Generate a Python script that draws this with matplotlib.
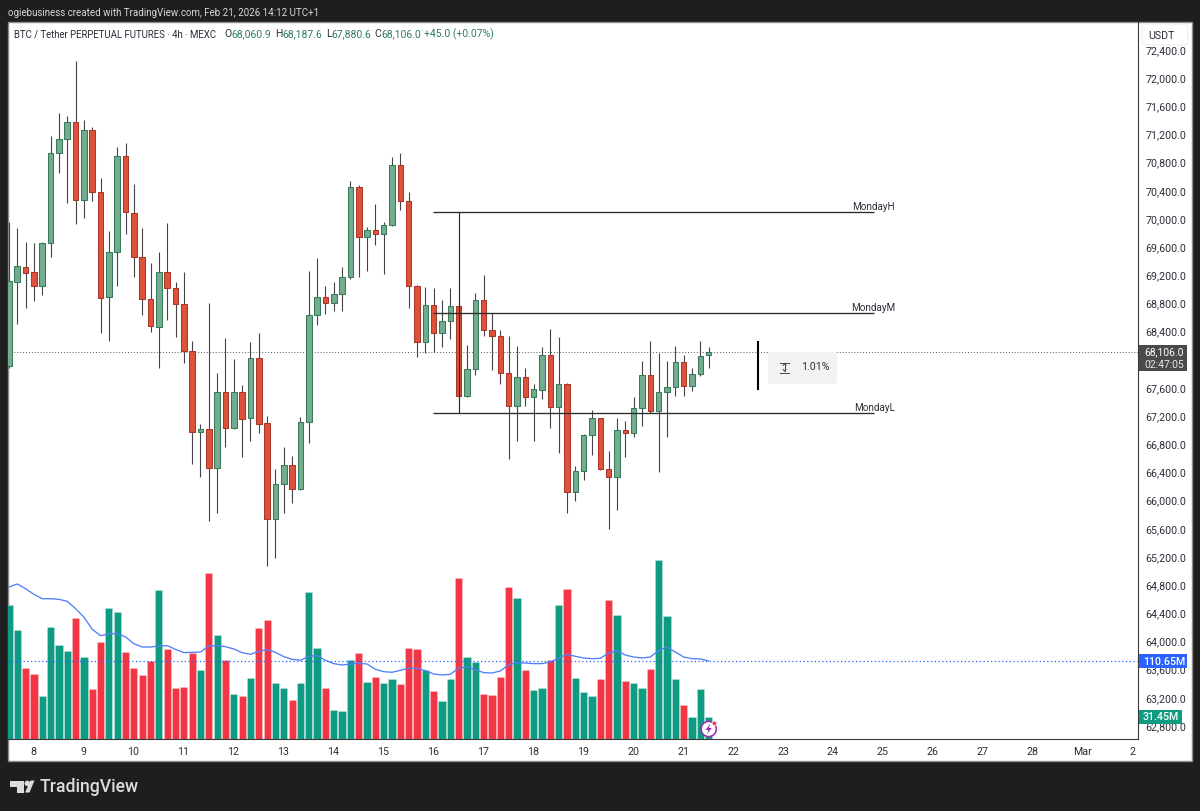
import numpy as np
import matplotlib
matplotlib.use('Agg')
import matplotlib.pyplot as plt
from matplotlib.patches import Rectangle, Circle, Polygon, FancyBboxPatch
from matplotlib.transforms import ScaledTranslation

plt.rcParams['font.family'] = ['Roboto', 'DejaVu Sans']

# 4h candles, oldest first
opens = [67915, 69107, 69312, 69240, 69050, 69653, 70940, 71130, 71370, 70270,
         71260, 70380, 68890, 69525, 70890, 70090, 69460, 68866, 68468, 69240,
         69014, 68787, 68123, 66977, 67010, 66466, 67537, 67034, 67537, 67176,
         68020, 67097, 65742, 66231, 66505, 66168, 67119, 68635, 68886, 68809,
         68937, 69170, 70452, 69738, 69842, 69781, 69908, 70765, 70253, 69051,
         68251, 68772, 68379, 68545, 68762, 67489, 67872, 68843, 68426, 68332,
         67815, 67347, 67754, 67466, 67570, 68067, 67324, 67651, 66125, 66415,
         66935, 67168, 66452, 66338, 67002, 66955, 67314, 67778, 67276, 67537,
         67608, 67963, 67626, 67801, 68060.9]
highs = [69955, 69870, 69675, 69657, 69670, 71176, 71507, 71460, 72241, 71404,
         71308, 70576, 69832, 71024, 71073, 70491, 69874, 69369, 69533, 69945,
         69099, 69249, 68265, 67083, 68801, 67815, 68304, 68006, 67641, 68247,
         68375, 67200, 66448, 66764, 66637, 67182, 69264, 69440, 69046, 69107,
         69312, 70533, 70476, 69888, 70211, 69955, 70882, 70931, 70377, 69060,
         69032, 69018, 68848, 69018, 68780, 68209, 68947, 69203, 68667, 68426,
         68336, 68194, 67882, 67651, 68176, 68432, 68326, 67665, 66495, 66950,
         67281, 67175, 66703, 67168, 67134, 67470, 67981, 68265, 68091, 67981,
         68199, 68067, 67886, 68265, 68187.6]
lows = [67882, 68507, 68734, 68838, 68923, 69462, 70655, 70221, 69927, 70008,
        70253, 68375, 68270, 69051, 69781, 69170, 68635, 68397, 67878, 68564,
        68318, 67949, 66515, 66338, 65714, 65827, 66756, 67012, 66622, 66845,
        66963, 65075, 65180, 65827, 65969, 66150, 66821, 68493, 68645, 68691,
        68691, 69150, 69170, 69259, 69629, 69213, 69900, 70126, 68738, 68042,
        68091, 68109, 68180, 68294, 67470, 67474, 67787, 68341, 67858, 67651,
        66586, 66850, 67347, 66850, 67446, 67034, 66679, 65819, 65993, 66292,
        66651, 66440, 65600, 65866, 66614, 66906, 67063, 67239, 66405, 66906,
        67484, 67484, 67555, 67773, 67880.6]
closes = [69117, 69330, 69235, 69051, 69657, 70939, 71134, 71371, 70272, 71257,
          70381, 68880, 69525, 70892, 70093, 69454, 68866, 68483, 69240, 69014,
          68787, 68123, 66977, 67016, 66466, 67537, 67034, 67537, 67162, 68020,
          67083, 65742, 66231, 66505, 66168, 67119, 68635, 68886, 68809, 68937,
          69170, 70452, 69738, 69842, 69781, 69908, 70765, 70253, 69051, 68251,
          68772, 68379, 68545, 68762, 67489, 67872, 68843, 68426, 68332, 67815,
          67347, 67754, 67466, 67580, 68067, 67324, 67651, 66125, 66415, 66935,
          67168, 66452, 66338, 67002, 66955, 67314, 67778, 67276, 67537, 67608,
          67963, 67626, 67801, 68048, 68106.0]

# volume in millions, and its moving average
volumes = [189.6, 154.1, 100.7, 92.7, 60.5, 158.9, 133.3, 124.8, 171.6, 115.8,
           70.9, 138.1, 186.3, 180.6, 122.9, 100.7, 90.3, 111.1, 211.8, 127.7,
           71.9, 74.2, 121.5, 98.3, 235.9, 147.0, 112.5, 63.8, 61.5, 87.0,
           157.4, 168.8, 79.9, 71.9, 55.8, 79.9, 208.5, 128.6, 72.8, 41.6,
           39.7, 112.5, 122.5, 80.8, 87.9, 79.0, 85.6, 77.5, 129.5, 127.7,
           98.3, 68.1, 54.4, 84.6, 227.9, 116.8, 108.7, 63.8, 62.9, 87.9,
           216.1, 200.0, 97.4, 69.5, 72.8, 112.5, 189.6, 212.8, 87.0, 67.1,
           61.5, 85.6, 196.7, 175.9, 82.3, 79.9, 72.8, 99.8, 254.4, 174.9,
           85.6, 47.8, 31.2, 70.4, 31.45]
volume_ma = [215.6, 219.9, 213.2, 205.2, 199.0, 199.0, 198.1, 195.3, 184.9, 173.0,
             155.6, 146.6, 148.9, 149.9, 144.7, 135.2, 130.5, 130.5, 131.9, 132.4,
             127.2, 122.5, 122.9, 123.4, 131.9, 132.4, 131.0, 127.7, 122.5, 120.1,
             124.3, 126.7, 122.9, 116.8, 113.0, 111.6, 117.3, 118.2, 111.6, 106.9,
             105.0, 106.4, 107.3, 106.4, 98.8, 95.5, 94.6, 97.4, 100.2, 100.2,
             96.9, 92.2, 90.8, 91.7, 100.7, 102.1, 98.3, 94.1, 93.6, 96.5,
             105.4, 108.3, 107.8, 106.9, 106.9, 109.2, 114.9, 120.1, 117.3, 114.9,
             113.9, 114.4, 122.0, 125.3, 119.1, 116.3, 114.9, 116.3, 125.3, 130.5,
             123.4, 116.3, 113.9, 113.5, 110.65]

day_labels = ['8', '9', '10', '11', '12', '13', '14', '15', '16', '17', '18', '19',
              '20', '21', '22', '23', '24', '25', '26', '27', '28', 'Mar', '2']
price_ticks = np.arange(62800, 72401, 400)

monday_names = ['MondayH', 'MondayM', 'MondayL']
monday_levels = [70097, 68667, 67239]
monday_start, monday_end = 50.9, 103.8
range_bar = [68265, 67570]

last_price = 68106.0
last_volume_ma = 110.65
last_volume = 31.45

DARK = '#1e1e1e'
TEXT = '#2a2e39'
CANDLE_UP, CANDLE_UP_EDGE = '#72ae8d', '#397a5c'
CANDLE_DOWN, CANDLE_DOWN_EDGE = '#dd523b', '#a9372a'
VOL_UP, VOL_DOWN = '#0f9b81', '#f23645'
MA_BLUE = '#4f80f7'

W, H = 1200, 812
fig = plt.figure(figsize=(W / 100, H / 100), dpi=100, facecolor=DARK)


def pane(left, top, right, bottom, **kw):
    return fig.add_axes([left / W, 1 - bottom / H, (right - left) / W, (bottom - top) / H], **kw)


# full-figure axes in pixels, one under the chart and one over it
back = pane(0, 0, W, H, zorder=0)
front = pane(0, 0, W, H, zorder=5)
for a in (back, front):
    a.set_xlim(0, W)
    a.set_ylim(H, 0)
    a.axis('off')
    a.patch.set_alpha(0)

back.add_patch(Rectangle((8, 23), 1184, 739, fc='white', ec='#8c8c8c', lw=1))

xlim = (-0.11, 135.55)
vol_ax = pane(8, 23, 1138, 740, zorder=1)
vol_ax.patch.set_alpha(0)
price_ax = pane(8, 23, 1138, 740, zorder=2)
price_ax.patch.set_alpha(0)

# volume pane shares the x axis with price, 0 sits on the time axis
x = np.arange(len(closes))
up = np.array(closes) >= np.array(opens)
vol_colors = [VOL_UP if u else VOL_DOWN for u in up]
vol_ax.bar(x, volumes, width=0.87, color=vol_colors, edgecolor='#ffffff66', linewidth=0.4)
vol_ax.plot(x, volume_ma, color=MA_BLUE, lw=0.95, solid_joinstyle='round')
vol_ax.axhline(last_volume_ma, color='#2962ff', lw=0.9, ls=(0, (1, 2)))
vol_ax.set_xlim(xlim)
vol_ax.set_ylim(0, 1017)
vol_ax.axis('off')

# candles
price_ax.axhline(last_price, color='#555555', lw=0.7, ls=(0, (1, 2)), zorder=1)
price_ax.vlines(x, lows, highs, color='#444444', lw=0.8, zorder=2)
body_low = np.minimum(opens, closes)
body_h = np.abs(np.array(closes) - np.array(opens))
price_ax.bar(x, body_h, bottom=body_low, width=0.66,
             color=[CANDLE_UP if u else CANDLE_DOWN for u in up],
             edgecolor=[CANDLE_UP_EDGE if u else CANDLE_DOWN_EDGE for u in up],
             linewidth=0.75, zorder=3)

# drawn levels and the vertical joining high and low
price_ax.hlines(monday_levels, monday_start, monday_end, color='#2b2b2b', lw=0.95, zorder=4)
price_ax.vlines(54, monday_levels[2], monday_levels[0], color='#2b2b2b', lw=0.85, zorder=4)
for name, level in zip(monday_names, monday_levels):
    price_ax.text(106.4, level + 85, name, ha='right', va='center', fontsize=7.1, color=TEXT, zorder=4)

price_ax.vlines(89.9, range_bar[1], range_bar[0], color='black', lw=1.5, zorder=4)

price_ax.set_xlim(xlim)
price_ax.set_ylim(62615, 72796)
price_ax.yaxis.tick_right()
price_ax.set_yticks(price_ticks)
# the 68,000.0 tick sits under the last-price badge
price_ax.set_yticklabels(['' if p == 68000 else f'{p:,.1f}' for p in price_ticks])
price_ax.set_xticks([2.93 + 6 * i for i in range(len(day_labels))])
price_ax.set_xticklabels(day_labels)
price_ax.tick_params(axis='both', length=0, labelsize=7.7, labelcolor=TEXT)
price_ax.tick_params(axis='y', pad=5.5)
price_ax.tick_params(axis='x', pad=5)
nudge = ScaledTranslation(0, 1 / 100, fig.dpi_scale_trans)
for label in price_ax.get_yticklabels():
    label.set_transform(label.get_transform() + nudge)
for side in ('top', 'left'):
    price_ax.spines[side].set_visible(False)
price_ax.spines['right'].set_color('#3a3a3a')
price_ax.spines['bottom'].set_color('#3a3a3a')

# header and legend line
front.text(8.5, 12.5, 'ogiebusiness created with TradingView.com, Feb 21, 2026 14:12 UTC+1',
           fontsize=7.05, color='#d8d8d8', va='center')
front.text(14.5, 34, 'BTC / Tether PERPETUAL FUTURES · 4h · MEXC', fontsize=6.95, color=TEXT, va='center')
ohlc_parts = [(224.5, 'O', '68,060.9'), (275.5, 'H', '68,187.6'), (326, 'L', '67,880.6'), (374.5, 'C', '68,106.0')]
for px, letter, val in ohlc_parts:
    front.text(px, 34, letter, fontsize=7.5, color=TEXT, va='center')
    front.text(px + (5.5 if letter == 'L' else 7), 34, val, fontsize=7.5, color='#2f7d5b', va='center')
front.text(424.5, 34, '+45.0 (+0.07%)', fontsize=7.5, color='#2f7d5b', va='center')

# unit badge at the top of the price scale
front.add_patch(FancyBboxPatch((1142, 25), 46, 21, boxstyle='round,pad=0,rounding_size=3',
                               fc='white', ec='#eeeeee', lw=0.8))
front.text(1148.5, 36, 'USDT', fontsize=7.7, color=TEXT, va='center')

# measure label beside the range bar
front.add_patch(FancyBboxPatch((768, 353), 69, 32, boxstyle='round,pad=0,rounding_size=2',
                               fc='#f2f2f2', ec='none'))
front.plot([780, 789], [363.5, 363.5], color='#444444', lw=0.7)
front.plot([780, 789], [373.5, 373.5], color='#444444', lw=0.7)
front.plot([784.5, 784.5], [365, 372], color='#444444', lw=0.7)
front.plot([783, 784.5, 786], [366.5, 365, 366.5], color='#444444', lw=0.7)
front.plot([783, 784.5, 786], [370.5, 372, 370.5], color='#444444', lw=0.7)
front.text(815, 367.5, '1.01%', fontsize=7.7, color=TEXT, ha='center', va='center')

# price scale badges
front.add_patch(Rectangle((1138.5, 346), 48.5, 26, fc='#4a4a4a', ec='none'))
front.text(1164, 352.5, '68,106.0', fontsize=7.4, color='white', ha='center', va='center')
front.text(1164, 365.2, '02:47:05', fontsize=7.4, color='#e8e8e8', ha='center', va='center')
front.add_patch(Rectangle((1138.5, 655), 48.5, 14, fc='#2962ff', ec='none'))
front.text(1164, 662, '110.65M', fontsize=7.7, color='white', ha='center', va='center', fontweight='medium')
front.add_patch(Rectangle((1138.5, 711), 43, 13.5, fc='#0f9b81', ec='none'))
front.text(1160.5, 717.5, '31.45M', fontsize=7.7, color='white', ha='center', va='center', fontweight='medium')

# live-update marker on the last bar
front.add_patch(Circle((708.7, 730), 7.6, fc='white', ec='#9c27b0', lw=1.1))
front.add_patch(Polygon([(710.5, 724.5), (705.5, 731), (708.5, 731), (706.8, 735.5),
                         (711.8, 729), (708.8, 729)], fc='#9c27b0', ec='none'))
front.add_patch(Circle((714.3, 724.3), 2.2, fc='#f23645', ec='white', lw=0.5))

# footer mark
front.add_patch(Polygon([(10, 781.5), (24, 781.5), (24, 793.5), (17, 793.5), (17, 787.5), (10, 787.5)],
                        fc='#dcdcdc', ec='none'))
front.add_patch(Circle((27.3, 784.4), 2.8, fc='#dcdcdc', ec='none'))
front.add_patch(Polygon([(30.5, 781.5), (34.5, 781.5), (29.5, 793.5), (25, 793.5)], fc='#dcdcdc', ec='none'))
front.text(39.5, 787.5, 'TradingView', fontsize=12.7, color='#dcdcdc', va='center', fontweight='medium')

fig.savefig('out.png', dpi=100, facecolor=DARK)
